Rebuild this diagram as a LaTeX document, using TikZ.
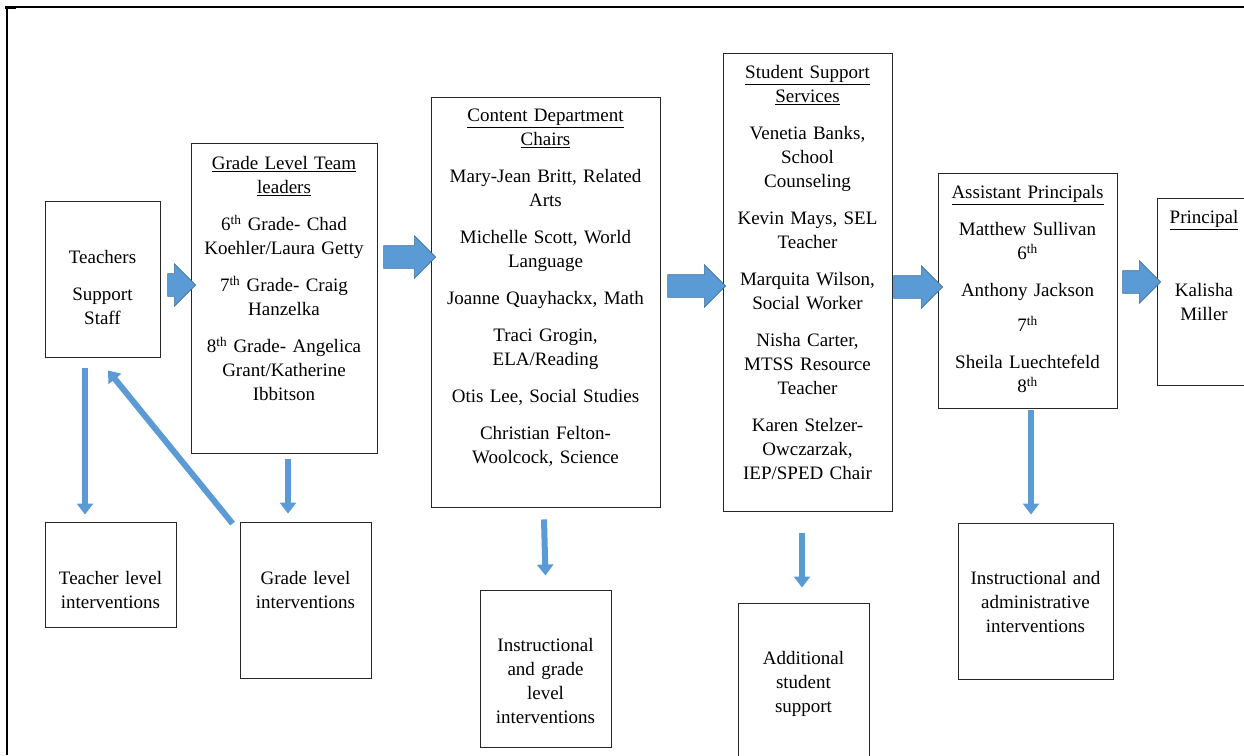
\documentclass[tikz,border=0pt]{standalone}
\usepackage{fontspec}
\setmainfont{Liberation Serif}
\usepackage{xcolor}
\usepackage{tikz}
\usetikzlibrary{shapes.arrows, arrows.meta}

\definecolor{arrowblue}{RGB}{91,155,213}
\definecolor{arrowedge}{RGB}{65,113,156}

\tikzset{
  box/.style={draw=black!85, line width=0.9pt, inner sep=0pt},
  boxtext/.style={anchor=north, inner sep=0pt, align=center, font=\fontsize{19}{24}\selectfont},
  bigarrow/.style={single arrow, fill=arrowblue, draw=arrowedge, line width=0.6pt,
    inner xsep=0pt, inner ysep=11pt, single arrow head extend=10pt},
  downarrow/.style={draw=arrowblue, line width=6pt, -{Triangle[length=11pt, width=16pt]}},
}

\begin{document}
\begin{tikzpicture}[x=1pt, y=-1pt]
    \useasboundingbox (0,0) rectangle (1244,755);

    % page frame
    \draw[line width=1.6pt] (7,7) -- (1244,7);
    \draw[line width=1.6pt] (7,7) -- (7,755);
    \fill (5,5.5) rectangle (16,8.5);

    % top row of boxes
    \node[box, minimum width=115pt, minimum height=156pt] (tch) at (102.5,279) {};
    \node[boxtext, text width=111pt] (tchtxt) at ([yshift=-50pt]tch.north)
        {Teachers\\[13pt]Support\\Staff};

    \node[box, minimum width=186pt, minimum height=310pt] (glt) at (284,298) {};
    \node[boxtext, text width=182pt] (glttxt) at ([yshift=-14pt]glt.north)
        {\underline{Grade Level Team}\\\underline{leaders}\\[13pt]
         6\textsuperscript{th} Grade- Chad\\Koehler/Laura Getty\\[13pt]
         7\textsuperscript{th} Grade- Craig\\Hanzelka\\[13pt]
         8\textsuperscript{th} Grade- Angelica\\Grant/Katherine\\Ibbitson};

    \node[box, minimum width=229pt, minimum height=410pt] (cdc) at (545.5,302) {};
    \node[boxtext, text width=225pt] (cdctxt) at ([yshift=-12pt]cdc.north)
        {\underline{Content Department}\\\underline{Chairs}\\[13pt]
         Mary-Jean Britt, Related\\Arts\\[13pt]
         Michelle Scott, World\\Language\\[13pt]
         Joanne Quayhackx, Math\\[13pt]
         Traci Grogin,\\ELA/Reading\\[13pt]
         Otis Lee, Social Studies\\[13pt]
         Christian Felton-\\Woolcock, Science};

    \node[box, minimum width=169pt, minimum height=458pt] (sss) at (807.5,282) {};
    \node[boxtext, text width=165pt] (ssstxt) at ([yshift=-13pt]sss.north)
        {\underline{Student Support}\\\underline{Services}\\[13pt]
         Venetia Banks,\\School\\Counseling\\[13pt]
         Kevin Mays, SEL\\Teacher\\[13pt]
         Marquita Wilson,\\Social Worker\\[13pt]
         Nisha Carter,\\MTSS Resource\\Teacher\\[13pt]
         Karen Stelzer-\\Owczarzak,\\IEP/SPED Chair};

    \node[box, minimum width=179pt, minimum height=235pt] (apr) at (1027.5,290.5) {};
    \node[boxtext, text width=175pt] (aprtxt) at ([yshift=-13pt]apr.north)
        {\underline{Assistant Principals}\\[13pt]
         Matthew Sullivan\\6\textsuperscript{th}\\[13pt]
         Anthony Jackson\\[11pt]7\textsuperscript{th}\\[13pt]
         Sheila Luechtefeld\\8\textsuperscript{th}};

    \node[box, minimum width=110pt, minimum height=187pt] (prn) at (1212,291.5) {};
    \node[boxtext, text width=90pt] (prntxt) at ([xshift=-8pt,yshift=-13pt]prn.north)
        {\underline{Principal}\\[49pt]Kalisha\\Miller};

    % bottom row of boxes
    \node[box, minimum width=131pt, minimum height=105pt] (tli) at (110.5,574.5) {};
    \node[boxtext, text width=127pt] (tlitxt) at ([yshift=-50pt]tli.north)
        {Teacher level\\interventions};

    \node[box, minimum width=131pt, minimum height=156pt] (gli) at (305.5,600) {};
    \node[boxtext, text width=127pt] (glitxt) at ([yshift=-50pt]gli.north)
        {Grade level\\interventions};

    \node[box, minimum width=131pt, minimum height=157pt] (igi) at (545.5,668.5) {};
    \node[boxtext, text width=127pt] (igitxt) at ([yshift=-49pt]igi.north)
        {Instructional\\and grade\\level\\interventions};

    \node[box, minimum width=131pt, minimum height=167pt] (ass) at (803.5,686.5) {};
    \node[boxtext, text width=127pt] (asstxt) at ([yshift=-49pt]ass.north)
        {Additional\\student\\support};

    \node[box, minimum width=155pt, minimum height=156pt] (iai) at (1035.5,601) {};
    \node[boxtext, text width=151pt] (iaitxt) at ([yshift=-49pt]iai.north)
        {Instructional and\\administrative\\interventions};

    % block arrows along the top row
    \node[bigarrow, minimum height=28pt] (a1) at (176,285) {};
    \node[bigarrow, minimum height=52pt] (a2) at (404,257) {};
    \node[bigarrow, minimum height=58pt] (a3) at (691,286) {};
    \node[bigarrow, minimum height=49pt] (a4) at (912.5,287) {};
    \node[bigarrow, minimum height=38pt] (a5) at (1136,282) {};

    % arrows down to the interventions
    \draw[downarrow] ([xshift=-17.5pt,yshift=-11pt]tch.south) -- ([xshift=-25.5pt,yshift=7pt]tli.north);
    \draw[downarrow] ([xshift=4pt,yshift=-6pt]glt.south) -- ([xshift=-17.5pt,yshift=8pt]gli.north);
    \draw[downarrow] ([xshift=-1.5pt,yshift=-12pt]cdc.south) -- ([yshift=14pt]igi.north);
    \draw[downarrow] ([xshift=-5.5pt,yshift=-22pt]sss.south) -- ([xshift=-1.5pt,yshift=15pt]ass.north);
    \draw[downarrow] ([xshift=3.5pt,yshift=-2pt]apr.south) -- ([xshift=-4.5pt,yshift=8pt]iai.north);
    % back up to the teachers
    \draw[downarrow] ([xshift=-7pt,yshift=-2pt]gli.north west) -- ([xshift=5.5pt,yshift=-13pt]tch.south);

\end{tikzpicture}
\end{document}
